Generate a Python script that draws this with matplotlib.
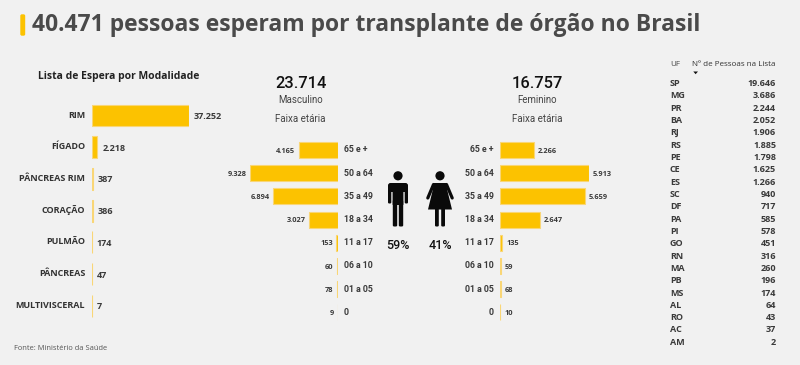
import matplotlib
matplotlib.use("Agg")
import matplotlib.pyplot as plt
from matplotlib.patches import Circle, FancyBboxPatch, Polygon

W, H = 800, 365
BG = "#f1f1f1"
YELLOW = "#fcc200"
EDGE = "#f9d676"

# data
organs = ["RIM", "FÍGADO", "PÂNCREAS RIM", "CORAÇÃO", "PULMÃO", "PÂNCREAS", "MULTIVISCERAL"]
organ_values = [37252, 2218, 387, 386, 174, 47, 7]

ages = ["65 e +", "50 a 64", "35 a 49", "18 a 34", "11 a 17", "06 a 10", "01 a 05", "0"]
male_values = [4165, 9328, 6894, 3027, 153, 60, 78, 9]
female_values = [2266, 5913, 5659, 2647, 135, 59, 68, 10]

states = ["SP", "MG", "PR", "BA", "RJ", "RS", "PE", "CE", "ES", "SC", "DF",
          "PA", "PI", "GO", "RN", "MA", "PB", "MS", "AL", "RO", "AC", "AM"]
state_values = [19646, 3686, 2244, 2052, 1906, 1885, 1798, 1625, 1266, 940, 717,
                585, 578, 451, 316, 260, 196, 174, 64, 43, 37, 2]


def fmt(v):
    return f"{v:,}".replace(",", ".")


def px_axes(fig, x0, x1, y0, y1):
    """Axes placed by pixel box (y measured from the top)."""
    ax = fig.add_axes([x0 / W, 1 - y1 / H, (x1 - x0) / W, (y1 - y0) / H])
    ax.axis("off")
    return ax


def hbars(ax, values, height, label_size, offset, xmax, invert=False):
    pos = list(range(len(values)))
    ax.barh(pos, values, height=height, color=YELLOW, edgecolor=EDGE, linewidth=0.8)
    ax.set_ylim(len(values) - 0.5, -0.5)
    ax.set_xlim(xmax, 0) if invert else ax.set_xlim(0, xmax)
    for p, v in zip(pos, values):
        ax.annotate(fmt(v), (v, p), xytext=(-offset if invert else offset, -0.8),
                    textcoords="offset points", va="center",
                    ha="right" if invert else "left", fontsize=label_size,
                    color="#3a3a3a", fontweight="bold", family="Open Sans")


fig = plt.figure(figsize=(W / 100, H / 100), dpi=100, facecolor=BG)

# organ bars
ax_org = px_axes(fig, 91.5, 189, 99.6, 321.6)
hbars(ax_org, organ_values, 0.69, 6.5, 3.5, 37252)
for i, name in enumerate(organs):
    ax_org.annotate(name, (0, i), xytext=(-4.5, 0.3), textcoords="offset points",
                    ha="right", va="center", fontsize=6.5, fontweight="bold",
                    color="#333333", family="Open Sans")

# age pyramids
ax_m = px_axes(fig, 250, 337.7, 138.4, 324.0)
hbars(ax_m, male_values, 0.69, 5.3, 2.5, 9328, invert=True)
ax_f = px_axes(fig, 500, 588.7, 138.4, 324.0)
hbars(ax_f, female_values, 0.69, 5.3, 3, 5913)

# overlay in pixel coordinates
ov = fig.add_axes([0, 0, 1, 1], facecolor="none")
ov.set_xlim(0, W)
ov.set_ylim(H, 0)
ov.axis("off")


def t(x, y, s, size, ha="left", color="#333333", weight="normal", family="Open Sans"):
    ov.text(x, y, s, fontsize=size, ha=ha, va="center", color=color,
            fontweight=weight, family=family)


# header
ov.add_patch(FancyBboxPatch((21.5, 15.5), 2.5, 19, boxstyle="round,pad=1.2,rounding_size=1.6",
                            fc=YELLOW, ec="none"))
t(32, 25, "40.471 pessoas esperam por transplante de órgão no Brasil", 16.45,
  color="#4a4a4a", weight="bold")
t(38, 76, "Lista de Espera por Modalidade", 7.45, color="#222222", weight="bold")
t(14, 348.5, "Fonte: Ministério da Saúde", 5.4, color="#555555")

# sex headers
t(301, 83, "23.714", 11.8, ha="center", color="#111111", weight="medium", family="Roboto")
t(301, 100, "Masculino", 7, ha="center", color="#444444", family="Roboto")
t(300, 119.5, "Faixa etária", 7, ha="center", color="#444444", family="Roboto")
t(537, 83, "16.757", 11.8, ha="center", color="#111111", weight="medium", family="Roboto")
t(537, 100, "Feminino", 7, ha="center", color="#444444", family="Roboto")
t(537, 119.5, "Faixa etária", 7, ha="center", color="#444444", family="Roboto")

# age labels either side of the gap
for i, age in enumerate(ages):
    y = 150 + i * 23.2
    t(344, y, age, 6.3, weight="bold", family="Roboto", color="#3a3a3a")
    t(494, y, age, 6.3, ha="right", weight="bold", family="Roboto", color="#3a3a3a")

# pictograms
ICON = "#0a0a0a"


def rbox(x0, y0, x1, y1, r=1.0):
    ov.add_patch(FancyBboxPatch((x0 + r, y0 + r), x1 - x0 - 2 * r, y1 - y0 - 2 * r,
                                boxstyle=f"round,pad={r},rounding_size={r}", fc=ICON, ec="none"))


ov.add_patch(Circle((398, 175.8), 4.6, fc=ICON, ec="none"))
rbox(388, 183, 408, 192, 2.5)
rbox(388, 186, 391.3, 203.5, 1.2)
rbox(404.7, 186, 408, 203.5, 1.2)
rbox(392.6, 186, 403.4, 205, 0.5)
rbox(392.8, 200, 397.2, 226.5, 1.3)
rbox(398.8, 200, 403.2, 226.5, 1.3)

ov.add_patch(Circle((440, 175.8), 4.6, fc=ICON, ec="none"))
ov.add_patch(Polygon([(434, 183), (446, 183), (447.5, 191), (452, 209.5), (428, 209.5), (432.5, 191)],
                     fc=ICON, ec="none"))
ov.plot([433.5, 427.8], [184.5, 198], color=ICON, lw=2.3, solid_capstyle="round")
ov.plot([446.5, 452.2], [184.5, 198], color=ICON, lw=2.3, solid_capstyle="round")
rbox(435, 205, 438.8, 226.5, 1.2)
rbox(441.2, 205, 445, 226.5, 1.2)
t(398, 245.5, "59%", 9, ha="center", color="#111111", weight="medium", family="Roboto")
t(440.5, 245.5, "41%", 9, ha="center", color="#111111", weight="medium", family="Roboto")

# state table
t(670, 65, "UF", 5.8, color="#444444")
t(692, 65, "Nº de Pessoas na Lista", 5.8, color="#333333")
ov.add_patch(Polygon([(693.3, 71.5), (698, 71.5), (695.6, 74.2)], fc="#111111", ec="none"))
for i, (uf, val) in enumerate(zip(states, state_values)):
    y = 83.4 + i * 12.33
    t(670, y, uf, 6.5, weight="bold", color="#3a3a3a")
    t(776, y, fmt(val), 6.5, ha="right", weight="bold", color="#3a3a3a")

fig.savefig("out.png", dpi=100, facecolor=BG)
